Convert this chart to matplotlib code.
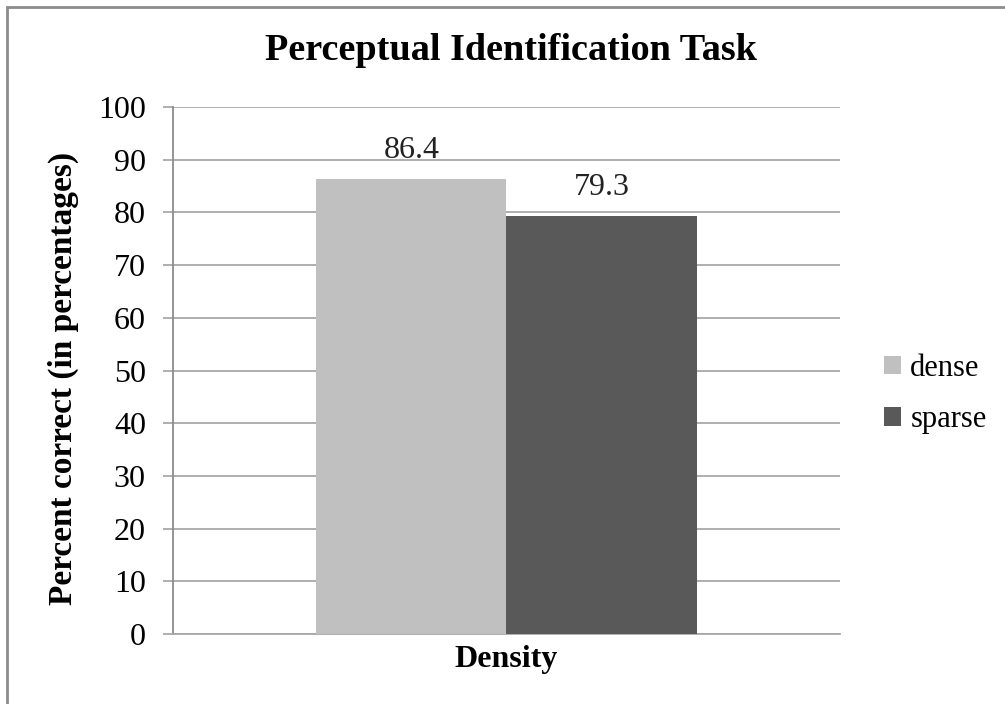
import numpy as np
import matplotlib
matplotlib.use("Agg")
import matplotlib.pyplot as plt
from matplotlib.patches import Rectangle, Patch

plt.rcParams['font.family'] = ['Liberation Serif', 'DejaVu Serif']

# data
groups = ["dense", "sparse"]
scores = [86.4, 79.3]
bar_colors = ["#c0c0c0", "#595959"]
yticks = list(range(0, 101, 10))

fig = plt.figure(figsize=(10.05, 7.04), dpi=100)

# thin gray frame round the chart
fig.patches.append(Rectangle((7 / 1005, -0.1), 1.2, 1 - 7 / 704 + 0.1,
                             transform=fig.transFigure, fill=False,
                             edgecolor="#8c8c8c", linewidth=2))

ax = fig.add_axes([0.1721, 0.0994, 0.6637, 0.7486])

width = 0.285
xs = (np.arange(len(groups)) - (len(groups) - 1) / 2) * width
bars = ax.bar(xs, scores, width=width, color=bar_colors, edgecolor="none", zorder=3)

for x, v in zip(xs, scores):
    ax.annotate(f"{v:.1f}", (x, v), xytext=(0, 10), textcoords="offset points",
                ha="center", va="bottom", fontsize=23, color="#222222")

ax.set_xlim(-0.5, 0.5)
ax.set_ylim(0, 100)
ax.set_yticks(yticks)
ax.set_xticks([])
ax.yaxis.grid(True, color="#a8a8a8", linewidth=1.3, zorder=0)
ax.tick_params(axis="y", length=7.5, width=1.3, color="#a8a8a8", labelsize=23, pad=12)
for s in ["top", "right"]:
    ax.spines[s].set_visible(False)
ax.spines["left"].set_color("#8c8c8c")
ax.spines["bottom"].set_color("#a8a8a8")
ax.spines["left"].set_linewidth(1.3)
ax.spines["bottom"].set_linewidth(1.3)

fig.text(511 / 1005, 1 - 50 / 704, "Perceptual Identification Task",
         ha="center", va="center", fontsize=27.5, fontweight="bold")
fig.text(63 / 1005, 1 - 378 / 704, "Percent correct (in percentages)",
         ha="center", va="center", rotation=90, fontsize=24, fontweight="bold")
fig.text(506 / 1005, 1 - 660 / 704, "Density",
         ha="center", va="center", fontsize=23, fontweight="bold")

handles = [Patch(facecolor=c, edgecolor="none") for c in bar_colors]
fig.legend(handles, groups, loc="center left", bbox_to_anchor=(869 / 1005, 1 - 394 / 704),
           frameon=False, fontsize=22, handlelength=0.55, handleheight=0.55,
           handletextpad=0.3, labelspacing=0.75, borderpad=0)

fig.savefig("out.png", dpi=100)
